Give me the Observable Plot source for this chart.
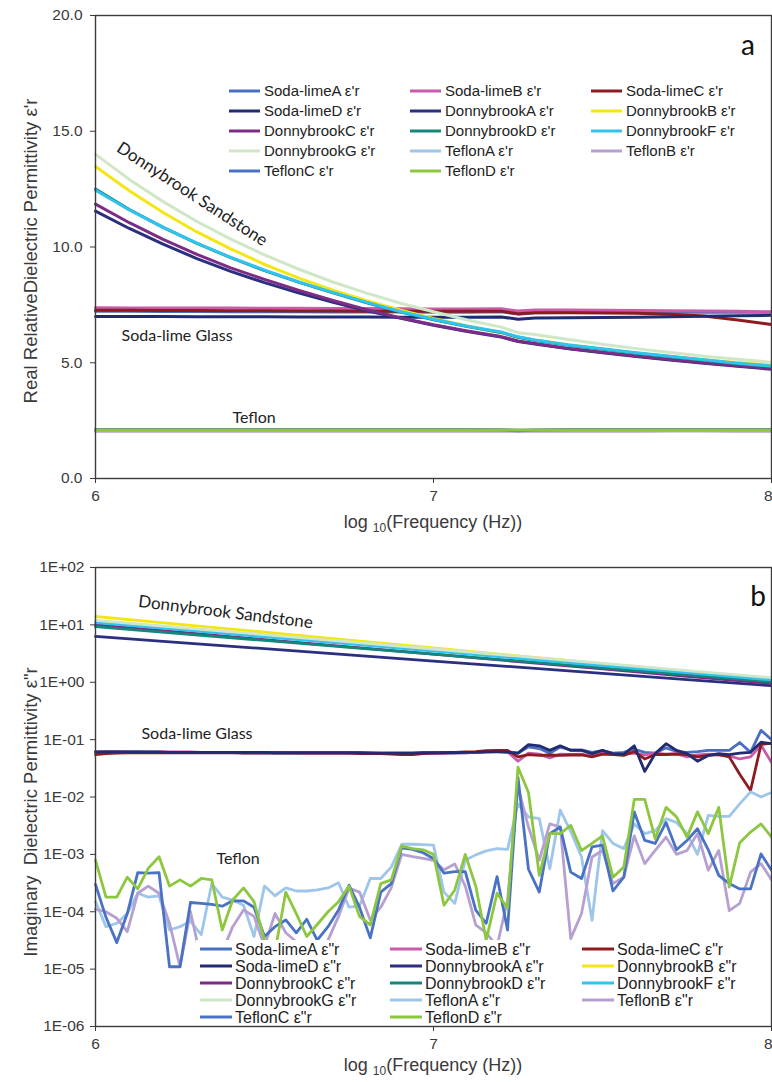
<!DOCTYPE html>
<html><head><meta charset="utf-8">
<script src="https://cdn.jsdelivr.net/npm/d3@7"></script>
<script src="https://cdn.jsdelivr.net/npm/@observablehq/plot@0.6"></script>
<style>
body{margin:0;background:#fff;}
#wrap{position:relative;width:772px;height:1082px;overflow:hidden;background:#fff;}
#wrap svg{position:absolute;left:0;}
</style></head><body><div id="wrap"></div>
<script>
// ---------- series ----------
const seriesNames = ["Soda-limeA","Soda-limeB","Soda-limeC","Soda-limeD","DonnybrookA","DonnybrookB","DonnybrookC","DonnybrookD","DonnybrookF","DonnybrookG","TeflonA","TeflonB","TeflonC","TeflonD"];
const seriesColors = ["#4A6FC0","#C95BAA","#8E1B1F","#222A70","#2B2F80","#F4E614","#7D2C86","#14877B","#30C3EF","#CFE7C6","#9EC6EA","#B6A0D2","#4A72C4","#8DC73F"];
const xTicks = [6,7,8];
const yTicksA = [0,5,10,15,20];
const yTicksB = [1e-6,1e-5,1e-4,1e-3,1e-2,1e-1,1,10,100];

// ---------- panel a: real permittivity ----------
const logFreqA = [6.0,6.1,6.2,6.3,6.4,6.5,6.6,6.7,6.8,6.9,7.0,7.1,7.2,7.25,7.3,7.4,7.5,7.6,7.7,7.8,7.9,8.0];
const realSodaA = [7.22,7.22,7.21,7.21,7.2,7.2,7.2,7.19,7.19,7.19,7.18,7.18,7.2,7.1,7.16,7.17,7.17,7.17,7.18,7.18,7.18,7.18];
const realSodaB = [7.38,7.37,7.37,7.36,7.36,7.35,7.35,7.34,7.34,7.33,7.32,7.32,7.33,7.24,7.28,7.28,7.27,7.26,7.25,7.24,7.22,7.2];
const realSodaC = [7.27,7.27,7.26,7.26,7.25,7.25,7.24,7.24,7.23,7.23,7.22,7.22,7.23,7.12,7.16,7.16,7.15,7.14,7.1,7.02,6.85,6.65];
const realSodaD = [7.0,7.0,7.0,6.99,6.99,6.99,6.98,6.98,6.98,6.97,6.97,6.97,6.98,6.88,6.93,6.94,6.95,6.97,6.99,7.01,7.03,7.05];
const realDonA = [11.55,10.8,10.12,9.5,8.95,8.46,8.02,7.62,7.26,6.93,6.62,6.35,6.11,5.92,5.81,5.6,5.43,5.27,5.12,4.98,4.85,4.72];
const realDonB = [13.48,12.43,11.49,10.65,9.92,9.25,8.67,8.15,7.69,7.28,6.91,6.59,6.3,6.1,5.98,5.78,5.59,5.42,5.27,5.13,5.01,4.9];
const realDonC = [11.85,11.05,10.33,9.68,9.1,8.6,8.13,7.7,7.3,6.95,6.64,6.37,6.13,5.94,5.83,5.62,5.45,5.29,5.14,5.0,4.87,4.75];
const realDonD = [12.5,11.62,10.85,10.16,9.54,8.98,8.48,8.03,7.6,7.2,6.86,6.56,6.31,6.1,5.96,5.75,5.58,5.41,5.26,5.11,4.96,4.84];
const realDonF = [12.45,11.6,10.85,10.17,9.55,9.0,8.5,8.05,7.62,7.22,6.88,6.58,6.33,6.12,5.98,5.77,5.6,5.43,5.28,5.13,4.98,4.86];
const realDonG = [14.0,12.92,11.96,11.1,10.34,9.66,9.05,8.5,8.02,7.58,7.2,6.85,6.54,6.3,6.22,6.0,5.8,5.61,5.44,5.28,5.15,5.02];
const realTefA = [2.11,2.11,2.11,2.11,2.11,2.11,2.11,2.11,2.11,2.11,2.11,2.11,2.11,2.1,2.1,2.11,2.11,2.11,2.11,2.11,2.11,2.11];
const realTefB = [2.04,2.04,2.04,2.04,2.04,2.04,2.04,2.04,2.04,2.04,2.04,2.04,2.04,2.04,2.04,2.04,2.04,2.04,2.05,2.05,2.04,2.04];
const realTefC = [2.12,2.12,2.12,2.12,2.12,2.12,2.12,2.12,2.12,2.12,2.12,2.12,2.11,2.06,2.1,2.12,2.12,2.12,2.12,2.12,2.12,2.12];
const realTefD = [2.1,2.1,2.1,2.1,2.1,2.1,2.1,2.1,2.1,2.1,2.1,2.1,2.1,2.09,2.1,2.1,2.1,2.1,2.1,2.1,2.1,2.1];

// ---------- panel b: imaginary permittivity ----------
const logFreqB9 = [6.0,6.25,6.5,6.75,7.0,7.25,7.5,7.75,8.0];
const imagDonA = [6.3,4.92,3.84,3.0,2.34,1.83,1.43,1.11,0.87];
const imagDonB = [14.0,10.2,7.45,5.43,3.96,2.89,2.11,1.54,1.12];
const imagDonC = [10.0,7.45,5.55,4.13,3.08,2.29,1.71,1.27,0.95];
const imagDonD = [9.3,7.06,5.36,4.07,3.1,2.35,1.78,1.35,1.02];
const imagDonF = [11.0,8.25,6.2,4.65,3.5,2.62,1.96,1.47,1.1];
const imagDonG = [12.0,9.0,6.75,5.05,3.8,2.85,2.13,1.6,1.2];

const logFreqB = [6.000,6.031,6.063,6.094,6.125,6.156,6.188,6.219,
6.250,6.281,6.313,6.344,6.375,6.406,6.438,6.469,
6.500,6.531,6.563,6.594,6.625,6.656,6.688,6.719,
6.750,6.781,6.813,6.844,6.875,6.906,6.938,6.969,
7.000,7.031,7.063,7.094,7.125,7.156,7.188,7.219,
7.250,7.281,7.313,7.344,7.375,7.406,7.438,7.469,
7.500,7.531,7.563,7.594,7.625,7.656,7.688,7.719,
7.750,7.781,7.813,7.844,7.875,7.906,7.938,7.969,
8.000];
const imagSodaA = [0.060,0.061,0.061,0.061,0.061,0.060,0.060,0.060,
0.060,0.060,0.060,0.060,0.060,0.060,0.059,0.059,
0.059,0.059,0.059,0.059,0.059,0.059,0.059,0.059,
0.059,0.059,0.059,0.058,0.058,0.058,0.058,0.059,
0.059,0.059,0.059,0.059,0.060,0.061,0.062,
0.062,0.058,0.075,0.070,0.058,0.074,0.066,0.066,0.060,0.064,0.058,0.060,0.068,0.060,0.058,0.072,0.062,0.060,0.062,0.065,0.065,0.065,0.089,0.060,0.145,0.100];
const imagSodaB = [0.062,0.062,0.062,0.061,0.061,0.061,0.061,0.061,
0.061,0.061,0.060,0.060,0.060,0.060,0.060,0.060,
0.060,0.060,0.060,0.059,0.059,0.059,0.059,0.059,
0.059,0.059,0.058,0.058,0.058,0.058,0.058,0.058,
0.058,0.058,0.059,0.059,0.060,0.061,0.062,
0.062,0.042,0.058,0.056,0.048,0.056,0.055,0.056,0.052,0.058,0.055,0.056,0.058,0.054,0.058,0.056,0.057,0.050,0.054,0.056,0.054,0.052,0.046,0.050,0.080,0.040];
const imagSodaC = [0.055,0.057,0.058,0.059,0.059,0.059,0.059,0.059,
0.059,0.059,0.059,0.059,0.059,0.059,0.058,0.058,
0.058,0.058,0.058,0.058,0.058,0.058,0.058,0.058,
0.058,0.057,0.057,0.057,0.056,0.055,0.055,0.057,
0.058,0.059,0.060,0.061,0.062,0.064,0.065,
0.065,0.050,0.055,0.053,0.054,0.053,0.054,0.054,0.050,0.056,0.055,0.053,0.062,0.046,0.055,0.055,0.056,0.055,0.050,0.053,0.055,0.050,0.025,0.013,0.082,0.087];
const imagSodaD = [0.061,0.061,0.061,0.061,0.061,0.061,0.061,0.060,
0.060,0.060,0.060,0.060,0.060,0.060,0.060,0.060,
0.060,0.059,0.059,0.059,0.059,0.059,0.059,0.059,
0.059,0.059,0.058,0.058,0.058,0.058,0.058,0.059,
0.059,0.059,0.059,0.060,0.060,0.061,0.061,
0.060,0.058,0.082,0.078,0.065,0.078,0.065,0.065,0.057,0.065,0.057,0.056,0.078,0.028,0.057,0.085,0.065,0.057,0.042,0.053,0.057,0.055,0.058,0.060,0.090,0.085];
const imagTefA = [1.5e-4,5.5e-5,6.3e-5,9.3e-5,2.1e-4,1.8e-4,1.9e-4,4.8e-5,5.5e-5,6.8e-5,4e-5,3.1e-4,1.8e-4,1.6e-4,1.3e-4,3.7e-5,2.8e-4,1.9e-4,2.6e-4,2.3e-4,2.3e-4,2.4e-4,2.6e-4,3.2e-4,1.2e-4,1.25e-4,3.8e-4,3.8e-4,6e-4,1.5e-3,1.5e-3,1.48e-3,1.45e-3,2.2e-4,1.4e-4,7.9e-4,9.8e-4,1.15e-3,1.26e-3,1.22e-3,7.6e-3,4.5e-3,4.2e-3,5.6e-4,5.9e-3,2.5e-3,9e-4,7.1e-5,2.6e-3,1.55e-3,1.26e-3,3.4e-3,2.3e-3,2.6e-3,4.2e-3,3.6e-3,2.3e-3,1e-3,4.8e-3,4.6e-3,4.6e-3,7.6e-3,1.23e-2,1e-2,1.2e-2];
const imagTefB = [1.1e-4,1e-4,7.7e-5,4.5e-5,2.1e-4,2.8e-4,2.1e-4,6.3e-5,1.1e-5,1e-4,1.4e-5,8e-6,2e-5,5.5e-5,1.07e-4,8.3e-5,2.5e-5,9.3e-5,4.3e-5,3e-5,1.5e-5,8e-6,3.2e-5,8.3e-5,2.6e-4,2.2e-4,7.2e-5,1.2e-4,2.6e-4,1e-3,9.1e-4,8.5e-4,7.9e-4,5.4e-4,6.8e-4,2.8e-4,5.9e-5,4.3e-5,2.5e-5,1.6e-4,1.48e-2,3e-3,7.9e-4,3.4e-3,3e-3,3.4e-5,9.3e-5,9e-4,1.17e-3,3.1e-4,4e-4,2.1e-3,6.9e-4,1.17e-3,2e-3,1e-3,1.17e-3,2.3e-3,5.3e-4,1.17e-3,1.05e-4,1.4e-4,4.9e-4,6.9e-4,3.6e-4];
const imagTefC = [3e-4,8e-5,2.9e-5,9.3e-5,4.8e-4,4.7e-4,4.8e-4,1.1e-5,1.1e-5,1.45e-4,1.4e-4,1.35e-4,1.25e-4,1.55e-4,1.55e-4,1.2e-4,3.7e-5,5.5e-5,7.2e-5,4.3e-5,7.4e-5,3.2e-5,5.5e-5,1.07e-4,2.9e-4,1.2e-4,3.5e-5,2.2e-4,3.1e-4,1.3e-3,1.22e-3,1.07e-3,8.5e-4,4.7e-4,5e-4,5e-4,1.07e-4,6.3e-5,4.1e-4,4.8e-5,2.2e-2,5.5e-4,2.2e-4,2.3e-3,3e-3,4.9e-4,3.8e-4,1.35e-3,1.45e-3,2.3e-4,4e-4,5.5e-3,1.75e-3,1.55e-3,3.6e-3,1.2e-3,1.75e-3,2.8e-3,1.2e-3,4.3e-4,3.1e-4,2.5e-4,2.5e-4,1.02e-3,5.3e-4];
const imagTefD = [7.9e-4,1.8e-4,1.8e-4,4e-4,2.5e-4,5.7e-4,9.1e-4,2.8e-4,3.6e-4,2.8e-4,3.8e-4,3.6e-4,4.8e-5,1.6e-4,2.6e-4,1.5e-4,3.2e-5,2e-5,2.2e-4,9.3e-5,3.7e-5,6e-5,1e-4,1.5e-4,2.8e-4,8.3e-5,5.9e-5,3.1e-4,3.6e-4,1.4e-3,1.26e-3,1.2e-3,1e-3,1.3e-4,2.4e-4,1e-3,2.8e-4,3.2e-5,2.1e-4,1.15e-4,3.3e-2,1.2e-2,4.3e-4,2.3e-3,2.3e-3,3.2e-3,1.17e-3,1.55e-3,2.1e-3,4e-4,6e-4,9.1e-3,9.1e-3,1.86e-3,6.6e-3,4.5e-3,2e-3,5.5e-3,2.3e-3,6.6e-3,2.7e-4,1.6e-3,2.45e-3,3.4e-3,2e-3];

// ---------- assemble ----------
const realSeries = [realSodaA,realSodaB,realSodaC,realSodaD,realDonA,realDonB,realDonC,realDonD,realDonF,realDonG,realTefA,realTefB,realTefC,realTefD];
const imagSeries = [imagSodaA,imagSodaB,imagSodaC,imagSodaD,imagDonA,imagDonB,imagDonC,imagDonD,imagDonF,imagDonG,imagTefA,imagTefB,imagTefC,imagTefD];
const rows = (xs, ys, i) => ys.map((v, k) => ({x: xs[k], y: v, name: seriesNames[i]}));
const dataA = realSeries.map((ys, i) => rows(logFreqA, ys, i));
const dataB = imagSeries.map((ys, i) => rows(ys.length === 9 ? logFreqB9 : logFreqB, ys, i));

const W = 772;
const axisFont = "'Liberation Sans', Arial, sans-serif";
const annFont = "Lato, 'Open Sans', sans-serif";
const ink = "#3a3a3a";

function supExp(v){
  const e = Math.round(Math.log10(v));
  return "1E" + (e < 0 ? "-" : "+") + String(Math.abs(e)).padStart(2, "0");
}

function addLegend(svg, suffix, opt){
  const g = d3.select(svg).append("g").attr("text-anchor", "start");
  if (opt.bg) g.append("rect").attr("x", opt.bg[0]).attr("y", opt.bg[1]).attr("width", opt.bg[2]).attr("height", opt.bg[3]).attr("fill", "white");
  seriesNames.forEach((n, i) => {
    const c = i % 3, r = Math.floor(i / 3);
    const y = opt.y0 + r * opt.dy;
    g.append("line").attr("x1", opt.lx[c]).attr("x2", opt.lx[c] + opt.lw).attr("y1", y).attr("y2", y)
      .attr("stroke", seriesColors[i]).attr("stroke-width", 3);
    g.append("text").attr("x", opt.lx[c] + opt.lw + opt.gap).attr("y", y).attr("dy", "0.35em")
      .attr("text-anchor", "start")
      .attr("font-family", axisFont).attr("font-size", opt.fs).attr("fill", "#222").text(n + " " + suffix);
  });
}
function addTitles(svg, ytitle, ycy, xbase){
  const s = d3.select(svg);
  s.append("text").attr("transform", `translate(31,${ycy}) rotate(-90)`).attr("text-anchor", "middle")
    .attr("dy", "0.35em").attr("font-family", axisFont).attr("font-size", 18.5).attr("fill", ink).text(ytitle);
  const t = s.append("text").attr("x", 433).attr("y", xbase).attr("text-anchor", "middle")
    .attr("font-family", axisFont).attr("font-size", 18).attr("fill", ink);
  t.append("tspan").text("log ");
  t.append("tspan").attr("font-size", 12).attr("dy", 4).text("10");
  t.append("tspan").attr("dy", -4).text("(Frequency (Hz))");
  // keep the last x tick label inside the picture
  s.selectAll("text").filter(function(){ return this.textContent === "8"; }).attr("text-anchor", "end").attr("dx", 1);
}

// ---------- panel a ----------
const plotA = Plot.plot({
  width: W, height: 540, marginLeft: 95, marginRight: 1, marginTop: 15, marginBottom: 62,
  style: {fontFamily: axisFont, fontSize: "15.5px", color: ink, background: "white", overflow: "visible"},
  x: {domain: [6, 8]},
  y: {domain: [0, 20]},
  marks: [
    Plot.axisX({ticks: xTicks, tickFormat: d => String(d), tickSize: 5, tickPadding: 6, label: null, fontSize: 15.5}),
    Plot.axisY({ticks: yTicksA, tickFormat: d3.format(".1f"), tickSize: 5, tickPadding: 8, label: null, fontSize: 15.5}),
    ...dataA.map((d, i) => Plot.line(d, {x: "x", y: "y", stroke: seriesColors[i], strokeWidth: 3})),
    Plot.frame({stroke: "#3c3c3c", strokeWidth: 1.4}),
    Plot.text(["Donnybrook Sandstone"], {x: 6.068, y: 14.35, text: d => d, rotate: 33, textAnchor: "start", fontSize: 17, fontFamily: annFont, fill: "#222"}),
    Plot.text(["Soda-lime Glass"], {x: 6.077, y: 6.18, text: d => d, textAnchor: "start", fontSize: 16, fontFamily: annFont, fill: "#222"}),
    Plot.text(["Teflon"], {x: 6.405, y: 2.64, text: d => d, textAnchor: "start", fontSize: 16, fontFamily: annFont, fill: "#222"}),
    Plot.text(["a"], {x: 7.93, y: 18.7, text: d => d, fontSize: 28, fontFamily: annFont, fill: "#111"})
  ]
});
plotA.style.top = "0px";
addLegend(plotA, "ε'r", {lx: [229, 410, 591], lw: 31, gap: 4, y0: 91, dy: 20, fs: 15});
addTitles(plotA, "Real RelativeDielectric Permittivity ε'r", 251, 528);
document.getElementById("wrap").appendChild(plotA);

// ---------- panel b ----------
const plotB = Plot.plot({
  width: W, height: 542, marginLeft: 95, marginRight: 1, marginTop: 27, marginBottom: 56,
  style: {fontFamily: axisFont, fontSize: "15.5px", color: ink, background: "white", overflow: "visible"},
  x: {domain: [6, 8]},
  y: {type: "log", domain: [1e-6, 100]},
  marks: [
    Plot.axisX({ticks: xTicks, tickFormat: d => String(d), tickSize: 5, tickPadding: 6, label: null, fontSize: 15.5}),
    Plot.axisY({ticks: yTicksB, tickFormat: supExp, tickSize: 5, tickPadding: 6, label: null, fontSize: 15.5}),
    ...dataB.map((d, i) => Plot.line(d, {x: "x", y: "y", stroke: seriesColors[i], strokeWidth: 2.8})),
    Plot.frame({stroke: "#3c3c3c", strokeWidth: 1.4}),
    Plot.text(["Donnybrook Sandstone"], {x: 6.127, y: 25.6, text: d => d, rotate: 7, textAnchor: "start", fontSize: 17, fontFamily: annFont, fill: "#222"}),
    Plot.text(["Soda-lime Glass"], {x: 6.136, y: 0.128, text: d => d, textAnchor: "start", fontSize: 16, fontFamily: annFont, fill: "#222"}),
    Plot.text(["Teflon"], {x: 6.358, y: 8.5e-4, text: d => d, textAnchor: "start", fontSize: 16, fontFamily: annFont, fill: "#222"}),
    Plot.text(["b"], {x: 7.96, y: 30, text: d => d, fontSize: 28, fontFamily: annFont, fill: "#111"})
  ]
});
plotB.style.top = "540px";
addLegend(plotB, "ε\"r", {lx: [200, 390, 582], lw: 32, gap: 3, y0: 409, dy: 17, fs: 16, bg: [196, 400, 574, 85]});
addTitles(plotB, "Imaginary  Dielectric Permittivity ε\"r", 272, 531);
document.getElementById("wrap").appendChild(plotB);
</script></body></html>
